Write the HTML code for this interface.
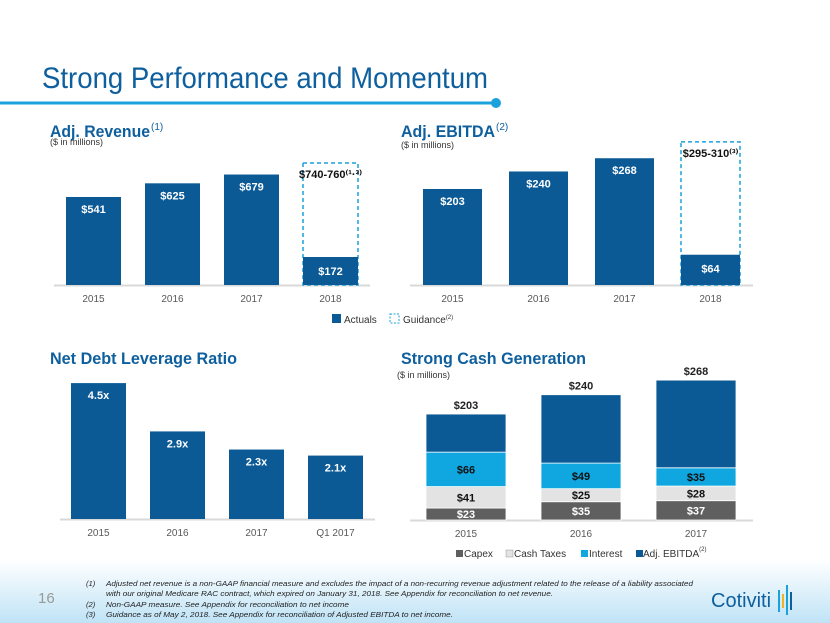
<!DOCTYPE html>
<html><head><meta charset="utf-8"><style>
body{margin:0;width:830px;height:623px;overflow:hidden;font-family:"Liberation Sans",sans-serif;background:#fff}
svg{position:absolute;left:0;top:0}
</style></head><body>
<svg id="s" width="830" height="623" xmlns="http://www.w3.org/2000/svg">
<defs><linearGradient id="bg" x1="0" y1="0" x2="0" y2="1"><stop offset="0" stop-color="#ffffff"/><stop offset="1" stop-color="#bfe3f6"/></linearGradient></defs>
<rect x="0" y="560" width="830" height="63" fill="url(#bg)"/>
<text x="42" y="88" font-size="30" fill="#0e5f9e" textLength="446" lengthAdjust="spacingAndGlyphs">Strong Performance and Momentum</text>
<rect x="0" y="101.5" width="495" height="3" fill="#1ba1dc"/>
<circle cx="496" cy="103" r="5" fill="#1ba1dc"/>
<text x="50" y="137" font-size="17" font-weight="bold" fill="#0e5f9e" textLength="100" lengthAdjust="spacingAndGlyphs">Adj. Revenue</text>
<text x="151" y="130" font-size="10" fill="#0e5f9e">(1)</text>
<text x="50" y="145" font-size="9" fill="#333">($ in millions)</text>
<text x="401" y="137" font-size="17" font-weight="bold" fill="#0e5f9e" textLength="94" lengthAdjust="spacingAndGlyphs">Adj. EBITDA</text>
<text x="496" y="130" font-size="10" fill="#0e5f9e">(2)</text>
<text x="401" y="148" font-size="9" fill="#333">($ in millions)</text>
<text x="50" y="364" font-size="17" font-weight="bold" fill="#0e5f9e" textLength="187" lengthAdjust="spacingAndGlyphs">Net Debt Leverage Ratio</text>
<text x="401" y="364" font-size="17" font-weight="bold" fill="#0e5f9e" textLength="185" lengthAdjust="spacingAndGlyphs">Strong Cash Generation</text>
<text x="397" y="378" font-size="9" fill="#333">($ in millions)</text>
<g id="g"></g>
<rect x="332" y="314" width="9" height="9" fill="#0b5a96"/>
<text x="344" y="323" font-size="10" fill="#333">Actuals</text>
<rect x="390" y="314" width="9" height="9" fill="none" stroke="#1ba1dc" stroke-dasharray="2,1.5"/>
<text x="403" y="323" font-size="10" fill="#333">Guidance<tspan font-size="6" dy="-4">(2)</tspan></text>
<rect x="456" y="550" width="7" height="7" fill="#5f5f5f"/>
<text x="464" y="557" font-size="10" fill="#333">Capex</text>
<rect x="506" y="550" width="7" height="7" fill="#e3e3e3" stroke="#999" stroke-width="0.5"/>
<text x="514" y="557" font-size="10" fill="#333">Cash Taxes</text>
<rect x="581" y="550" width="7" height="7" fill="#10a7e0"/>
<text x="589" y="557" font-size="10" fill="#333">Interest</text>
<rect x="636" y="550" width="7" height="7" fill="#0b5a96"/>
<text x="643" y="557" font-size="10" fill="#333">Adj. EBITDA<tspan font-size="6" dy="-6">(2)</tspan></text>
<text x="38" y="603" font-size="15" fill="#999">16</text>
<g font-size="7.6" font-style="italic" fill="#222">
<text x="86" y="586">(1)</text><text x="106" y="586" textLength="587" lengthAdjust="spacingAndGlyphs">Adjusted net revenue is a non-GAAP financial measure and excludes the impact of a non-recurring revenue adjustment related to the release of a liability associated</text>
<text x="106" y="596" textLength="447" lengthAdjust="spacingAndGlyphs">with our original Medicare RAC contract, which expired on January 31, 2018.  See Appendix for reconciliation to net revenue.</text>
<text x="86" y="607">(2)</text><text x="106" y="607" textLength="243" lengthAdjust="spacingAndGlyphs">Non-GAAP measure.  See Appendix for reconciliation to net income</text>
<text x="86" y="617">(3)</text><text x="106" y="617" textLength="347" lengthAdjust="spacingAndGlyphs">Guidance as of May 2, 2018.  See Appendix for reconciliation of Adjusted EBITDA to net income.</text>
</g>
<text x="711" y="607" font-size="20" fill="#0e5f9e">Cotiviti</text>
<g><rect x="778" y="590" width="2" height="22" fill="#1ba1dc"/><rect x="782" y="594" width="2" height="14" fill="#f0b323"/><rect x="786" y="585" width="2" height="30" fill="#1ba1dc"/><rect x="790" y="592" width="2" height="18" fill="#0e5f9e"/></g>
</svg>
<script>
const revCats=["2015","2016","2017","2018"];
const revVals=[541,625,679,172];
const revLabels=["$541","$625","$679","$172"];
const revGuide=[0,0,0,750];
const ebCats=["2015","2016","2017","2018"];
const ebVals=[203,240,268,64];
const ebLabels=["$203","$240","$268","$64"];
const ebGuide=[0,0,0,302.5];
const levCats=["2015","2016","2017","Q1 2017"];
const levVals=[4.5,2.9,2.3,2.1];
const cashCats=["2015","2016","2017"];
const capex=[23,35,37];
const taxes=[41,25,28];
const interest=[66,49,35];
const ebitdaTot=[203,240,268];

const NS="http://www.w3.org/2000/svg",G=document.getElementById('g');
function el(t,a,txt){const e=document.createElementNS(NS,t);for(const k in a)e.setAttribute(k,a[k]);if(txt!==undefined)e.textContent=txt;G.appendChild(e);return e;}
function lin(d0,d1,r0,r1){return v=>r0+(v-d0)/(d1-d0)*(r1-r0);}

function simpleChart(o){
  const y=lin(0,1,o.base,o.base-o.k);
  let e=el('line',{x1:o.ax0,x2:o.ax1,y1:o.base+0.5,y2:o.base+0.5,stroke:'#d9d9d9','stroke-width':2});
  
  
  o.cats.forEach((c,i)=>{
    const x=o.x0+i*o.step, top=y(o.vals[i]);
    if(o.guide&&o.guide[i]){
      const gt=y(o.guide[i]);
      const d=el('rect',{x:x,y:gt,width:o.w,height:o.base-gt,fill:'none',stroke:'#1ba1dc','stroke-width':1.5,'stroke-dasharray':'4,3'});
      
      
      const gl=el('text',{x:x+o.w/2,y:gt+15,'font-size':11,'font-weight':'bold','text-anchor':'middle',fill:'#111'},o.gl);
      
      
    }
    const b=el('rect',{x:x,y:top,width:o.w,height:o.base-top,fill:'#0b5a96'});
    
    
    const t=el('text',{x:x+o.w/2,y:top+(o.guide&&o.guide[i]?18:16),'font-size':11,'font-weight':'bold','text-anchor':'middle',fill:'#fff'},o.labels[i]);
    
    
    const xl=el('text',{x:x+o.w/2,y:o.base+17,'font-size':10,'text-anchor':'middle',fill:'#595959'},c);
    
    
  });
}
simpleChart({n:'revenue',cats:revCats,vals:revVals,labels:revLabels,guide:revGuide,gl:'$740-760⁽¹·³⁾',base:285,k:0.1627,x0:66,step:79,w:55,ax0:54,ax1:370});
simpleChart({n:'ebitda',cats:ebCats,vals:ebVals,labels:ebLabels,guide:ebGuide,gl:'$295-310⁽³⁾',base:285,k:0.473,x0:423,step:86,w:59,ax0:410,ax1:753});
simpleChart({n:'leverage',cats:levCats,vals:levVals,labels:levVals.map(v=>v.toFixed(1)+'x'),base:519,k:30.2,x0:71,step:79,w:55,ax0:60,ax1:375});

(function(){
  const base=520,k=0.522,y=lin(0,1,base,base-k),x0=426,step=115,w=80;
  const a=el('line',{x1:410,x2:753,y1:base+0.5,y2:base+0.5,stroke:'#d9d9d9','stroke-width':2});
  
  
  cashCats.forEach((c,i)=>{
    const x=x0+i*step;
    const segs=[[capex[i],'#5f5f5f','#fff','capex'],[taxes[i],'#e3e3e3','#111','taxes'],[interest[i],'#10a7e0','#111','interest'],[ebitdaTot[i]-capex[i]-taxes[i]-interest[i],'#0b5a96',null,'ebitda']];
    let acc=0;
    segs.forEach(s=>{
      const y0=y(acc),y1=y(acc+s[0]);
      const r=el('rect',{x:x,y:y1,width:w,height:y0-y1,fill:s[1],stroke:'#fff','stroke-width':0.8});
      
      
      if(s[2]){const t=el('text',{x:x+w/2,y:(y0+y1)/2+4,'font-size':11,'font-weight':'bold','text-anchor':'middle',fill:s[2]},'$'+s[0]);
        
        }
      acc+=s[0];
    });
    const tl=el('text',{x:x+w/2,y:y(ebitdaTot[i])-5,'font-size':11,'font-weight':'bold','text-anchor':'middle',fill:'#222'},'$'+ebitdaTot[i]);
    
    
    const xl=el('text',{x:x+w/2,y:base+17,'font-size':10,'text-anchor':'middle',fill:'#595959'},c);
    
    
  });
})();
</script>
</body></html>
